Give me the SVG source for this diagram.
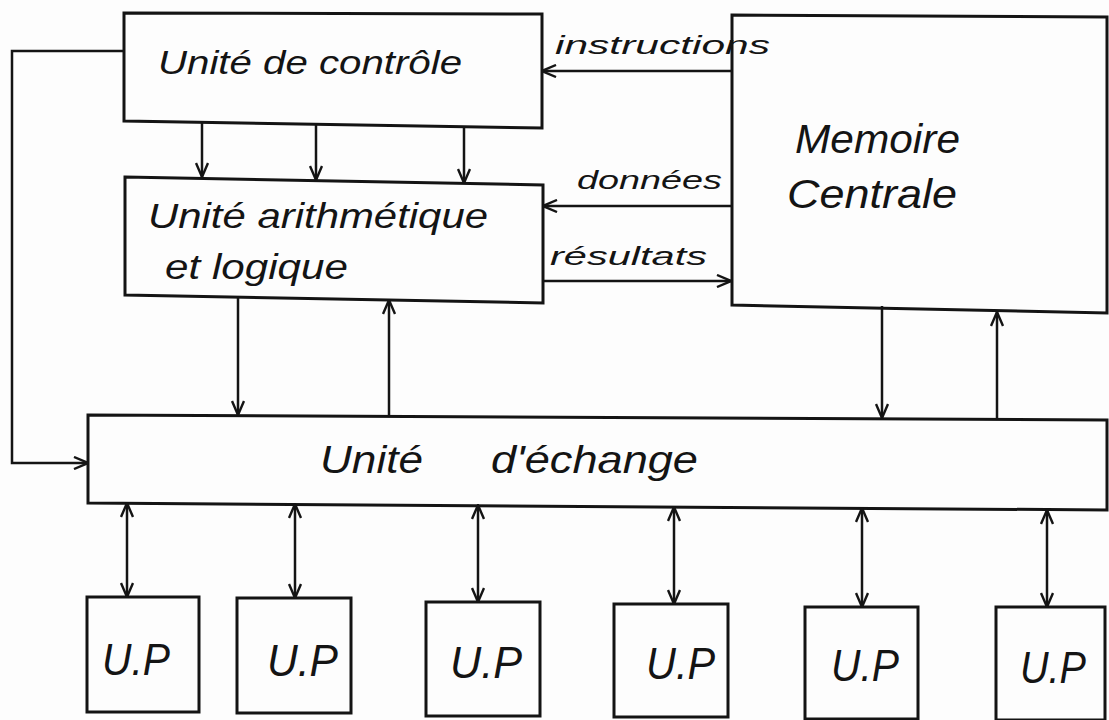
<svg xmlns="http://www.w3.org/2000/svg" width="1109" height="720" viewBox="0 0 1109 720">
  <style>
    .box { fill: none; stroke: #141414; stroke-width: 3; stroke-linejoin: miter; }
    .wire { fill: none; stroke: #141414; stroke-width: 2.5; }
    .lbl { font-family: "Liberation Sans", "DejaVu Sans", sans-serif; font-style: italic; fill: #141414; }
  </style>
  <defs>
    <marker id="arr" viewBox="0 0 16 14" refX="15" refY="7" markerWidth="16" markerHeight="14" markerUnits="userSpaceOnUse" orient="auto-start-reverse">
      <path d="M1,1 L15,7 L1,13" fill="none" stroke="#141414" stroke-width="2.4"/>
    </marker>
  </defs>
  <rect width="1109" height="720" fill="#fdfdfd"/>

  <!-- control unit -->
  <g id="controle">
    <polygon class="box" points="124,13 542,14 542,128 124,121"/>
    <text class="lbl" x="158" y="74" font-size="33" textLength="304" lengthAdjust="spacingAndGlyphs">Unité de contrôle</text>
  </g>

  <!-- arithmetic and logic unit -->
  <g id="ual">
    <polygon class="box" points="125,177 543,185 543,303 125,295"/>
    <text class="lbl" x="148" y="228" font-size="35" textLength="340" lengthAdjust="spacingAndGlyphs">Unité arithmétique</text>
    <text class="lbl" x="165" y="279" font-size="35" textLength="183" lengthAdjust="spacingAndGlyphs">et logique</text>
  </g>

  <!-- main memory -->
  <g id="memoire">
    <polygon class="box" points="732,15 1107,17 1107,313 732,305"/>
    <text class="lbl" x="795" y="153" font-size="41" textLength="165" lengthAdjust="spacingAndGlyphs">Memoire</text>
    <text class="lbl" x="787" y="208" font-size="40" textLength="170" lengthAdjust="spacingAndGlyphs">Centrale</text>
  </g>

  <!-- exchange unit -->
  <g id="echange">
    <polygon class="box" points="88,415 1107,420 1107,510 88,503"/>
    <text class="lbl" y="473" font-size="38"><tspan x="320" textLength="103" lengthAdjust="spacingAndGlyphs">Unité</tspan><tspan x="491" textLength="207" lengthAdjust="spacingAndGlyphs">d'échange</tspan></text>
  </g>

  <!-- peripheral units -->
  <g id="up1">
    <polygon class="box" points="87,597 199,597 199,712 87,712"/>
    <text class="lbl" x="102" y="675" font-size="45" textLength="68" lengthAdjust="spacingAndGlyphs">U.P</text>
  </g>
  <g id="up2">
    <polygon class="box" points="237,598 351,598 351,713 237,713"/>
    <text class="lbl" x="267" y="676" font-size="45" textLength="71" lengthAdjust="spacingAndGlyphs">U.P</text>
  </g>
  <g id="up3">
    <polygon class="box" points="426,602 540,602 540,716 426,716"/>
    <text class="lbl" x="450" y="678" font-size="45" textLength="72" lengthAdjust="spacingAndGlyphs">U.P</text>
  </g>
  <g id="up4">
    <polygon class="box" points="614,604 728,604 728,717 614,717"/>
    <text class="lbl" x="646" y="679" font-size="45" textLength="69" lengthAdjust="spacingAndGlyphs">U.P</text>
  </g>
  <g id="up5">
    <polygon class="box" points="805,607 918,607 918,719 805,719"/>
    <text class="lbl" x="831" y="681" font-size="45" textLength="68" lengthAdjust="spacingAndGlyphs">U.P</text>
  </g>
  <g id="up6">
    <polygon class="box" points="996,607 1105,607 1105,720 996,720"/>
    <text class="lbl" x="1020" y="683" font-size="45" textLength="66" lengthAdjust="spacingAndGlyphs">U.P</text>
  </g>

  <!-- connectors -->
  <g id="connectors">
    <!-- control -> ALU -->
    <line class="wire" x1="202" y1="121" x2="202" y2="177" marker-end="url(#arr)"/>
    <line class="wire" x1="316" y1="124" x2="316" y2="180" marker-end="url(#arr)"/>
    <line class="wire" x1="464" y1="127" x2="464" y2="183" marker-end="url(#arr)"/>
    <!-- control -> exchange loop -->
    <polyline class="wire" points="124,51 12,51 12,463 88,463" marker-end="url(#arr)"/>
    <!-- memory <-> CPU -->
    <line class="wire" x1="732" y1="71" x2="542" y2="71" marker-end="url(#arr)"/>
    <text class="lbl" x="555" y="54" font-size="26" textLength="215" lengthAdjust="spacingAndGlyphs">instructions</text>
    <line class="wire" x1="732" y1="206" x2="543" y2="206" marker-end="url(#arr)"/>
    <text class="lbl" x="577" y="189" font-size="26" textLength="145" lengthAdjust="spacingAndGlyphs">données</text>
    <line class="wire" x1="543" y1="281" x2="731" y2="281" marker-end="url(#arr)"/>
    <text class="lbl" x="550" y="265" font-size="26" textLength="157" lengthAdjust="spacingAndGlyphs">résultats</text>
    <!-- ALU <-> exchange -->
    <line class="wire" x1="238" y1="298" x2="238" y2="415" marker-end="url(#arr)"/>
    <line class="wire" x1="389" y1="416" x2="389" y2="300" marker-end="url(#arr)"/>
    <!-- memory <-> exchange -->
    <line class="wire" x1="882" y1="306" x2="882" y2="418" marker-end="url(#arr)"/>
    <line class="wire" x1="997" y1="420" x2="997" y2="312" marker-end="url(#arr)"/>
    <!-- exchange <-> peripheral units -->
    <line class="wire" x1="127" y1="503" x2="127" y2="597" marker-start="url(#arr)" marker-end="url(#arr)"/>
    <line class="wire" x1="295" y1="504" x2="295" y2="598" marker-start="url(#arr)" marker-end="url(#arr)"/>
    <line class="wire" x1="478" y1="505" x2="478" y2="602" marker-start="url(#arr)" marker-end="url(#arr)"/>
    <line class="wire" x1="674" y1="507" x2="674" y2="604" marker-start="url(#arr)" marker-end="url(#arr)"/>
    <line class="wire" x1="862" y1="508" x2="862" y2="607" marker-start="url(#arr)" marker-end="url(#arr)"/>
    <line class="wire" x1="1047" y1="510" x2="1047" y2="607" marker-start="url(#arr)" marker-end="url(#arr)"/>
  </g>
</svg>
